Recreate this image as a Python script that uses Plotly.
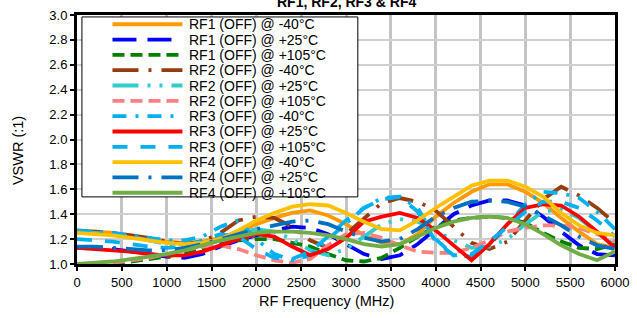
import plotly.graph_objects as go

# ---------------- data ----------------
freq_mhz = list(range(0, 6001, 200))

series_names = [
    "RF1 (OFF) @ -40°C", "RF1 (OFF) @ +25°C", "RF1 (OFF) @ +105°C",
    "RF2 (OFF) @ -40°C", "RF2 (OFF) @ +25°C", "RF2 (OFF) @ +105°C",
    "RF3 (OFF) @ -40°C", "RF3 (OFF) @ +25°C", "RF3 (OFF) @ +105°C",
    "RF4 (OFF) @ -40°C", "RF4 (OFF) @ +25°C", "RF4 (OFF) @ +105°C",
]

rf1_m40 = [1.27, 1.26, 1.25, 1.23, 1.20, 1.18, 1.17, 1.18, 1.21, 1.26, 1.32, 1.37, 1.41, 1.43, 1.39, 1.32,
           1.23, 1.17, 1.16, 1.24, 1.38, 1.49, 1.58, 1.64, 1.64, 1.58, 1.49, 1.37, 1.26, 1.16, 1.13]
rf1_p25 = [1.13, 1.13, 1.12, 1.10, 1.08, 1.06, 1.05, 1.08, 1.14, 1.19, 1.23, 1.27, 1.30, 1.29, 1.24, 1.16,
           1.08, 1.04, 1.07, 1.16, 1.28, 1.40, 1.47, 1.51, 1.51, 1.47, 1.38, 1.26, 1.15, 1.08, 1.07]
rf1_p105 = [1.00, 1.00, 1.01, 1.02, 1.04, 1.06, 1.09, 1.12, 1.16, 1.19, 1.20, 1.20, 1.17, 1.14, 1.08, 1.03,
            1.02, 1.05, 1.13, 1.22, 1.30, 1.35, 1.37, 1.38, 1.37, 1.33, 1.25, 1.18, 1.13, 1.12, 1.16]
rf2_m40 = [1.26, 1.26, 1.25, 1.23, 1.21, 1.18, 1.16, 1.18, 1.25, 1.35, 1.38, 1.37, 1.30, 1.19, 1.13, 1.24,
           1.37, 1.49, 1.53, 1.50, 1.43, 1.30, 1.17, 1.12, 1.18, 1.35, 1.52, 1.62, 1.55, 1.45, 1.33]
rf2_p25 = [1.26, 1.25, 1.24, 1.22, 1.19, 1.16, 1.14, 1.15, 1.19, 1.25, 1.28, 1.26, 1.20, 1.11, 1.07, 1.12,
           1.22, 1.32, 1.36, 1.34, 1.27, 1.19, 1.13, 1.14, 1.20, 1.32, 1.42, 1.44, 1.37, 1.25, 1.15]
rf2_p105 = [1.00, 1.00, 1.01, 1.03, 1.05, 1.08, 1.11, 1.14, 1.15, 1.12, 1.07, 1.03, 1.01, 1.04, 1.15, 1.24,
            1.25, 1.21, 1.15, 1.10, 1.09, 1.09, 1.13, 1.19, 1.26, 1.29, 1.31, 1.31, 1.29, 1.24, 1.18]
rf3_m40 = [1.27, 1.26, 1.25, 1.23, 1.21, 1.19, 1.19, 1.22, 1.30, 1.35, 1.20, 1.08, 1.03, 1.07, 1.20, 1.33,
           1.45, 1.53, 1.54, 1.45, 1.20, 1.07, 1.06, 1.15, 1.32, 1.48, 1.58, 1.57, 1.53, 1.42, 1.28]
rf3_p25 = [1.13, 1.12, 1.11, 1.10, 1.08, 1.07, 1.07, 1.10, 1.15, 1.20, 1.24, 1.22, 1.14, 1.07, 1.12, 1.21,
           1.34, 1.38, 1.41, 1.37, 1.27, 1.15, 1.03, 1.16, 1.32, 1.45, 1.48, 1.47, 1.38, 1.26, 1.13]
rf3_p105 = [1.20, 1.19, 1.18, 1.16, 1.14, 1.13, 1.14, 1.19, 1.24, 1.22, 1.12, 1.05, 1.04, 1.10, 1.22, 1.35,
            1.45, 1.52, 1.54, 1.42, 1.18, 1.07, 1.08, 1.18, 1.30, 1.42, 1.50, 1.50, 1.45, 1.35, 1.22]
rf4_m40 = [1.25, 1.24, 1.23, 1.21, 1.19, 1.17, 1.16, 1.17, 1.20, 1.27, 1.35, 1.41, 1.46, 1.48, 1.47, 1.41,
           1.34, 1.28, 1.27, 1.35, 1.45, 1.54, 1.63, 1.67, 1.67, 1.62, 1.54, 1.41, 1.31, 1.25, 1.23]
rf4_p25 = [1.14, 1.14, 1.13, 1.12, 1.11, 1.11, 1.13, 1.16, 1.20, 1.24, 1.28, 1.31, 1.34, 1.35, 1.32, 1.26,
           1.21, 1.18, 1.20, 1.28, 1.38, 1.45, 1.50, 1.51, 1.50, 1.46, 1.39, 1.31, 1.22, 1.15, 1.12]
rf4_p105 = [1.00, 1.01, 1.02, 1.04, 1.06, 1.08, 1.11, 1.15, 1.19, 1.22, 1.25, 1.26, 1.26, 1.25, 1.23, 1.20,
            1.16, 1.14, 1.16, 1.22, 1.29, 1.34, 1.37, 1.38, 1.37, 1.32, 1.24, 1.15, 1.08, 1.03, 1.10]

series_values = [rf1_m40, rf1_p25, rf1_p105, rf2_m40, rf2_p25, rf2_p105,
                 rf3_m40, rf3_p25, rf3_p105, rf4_m40, rf4_p25, rf4_p105]

x_ticks = list(range(0, 6001, 500))
y_ticks = [1.0, 1.2, 1.4, 1.6, 1.8, 2.0, 2.2, 2.4, 2.6, 2.8, 3.0]

# ---------------- styles ----------------
colors = ["#FF9A00", "#0000FF", "#008000", "#963C0F", "#33CCCC", "#FF8080",
          "#00B0F0", "#FF0000", "#00B0F0", "#FFC000", "#0070C0", "#70AD47"]
dashes = ["solid", "24px,11px", "12px,6px", "26px,10px,3px,10px", "26px,9px,3px,9px,3px,9px", "12px,6px",
          "14px,9px,3px,9px", "solid", "15px,13px", "solid", "26px,10px,3px,10px", "solid"]
LW = 3.8
FONT = "Liberation Sans, Arial, sans-serif"

fig = go.Figure()
for name, vals, c, d in zip(series_names, series_values, colors, dashes):
    fig.add_trace(go.Scatter(x=freq_mhz, y=vals, mode="lines", name=name,
                             line=dict(color=c, width=LW, dash=d), showlegend=False))

# ---------------- manual legend (layout decoration) ----------------
L, R, T, B = 77, 623, 8, 264
W, H = R - L, B - T
def px_x(p): return (p - L) / W
def px_y(p): return (B - p) / H

shapes = [dict(type="rect", xref="paper", yref="paper",
               x0=px_x(82), x1=px_x(362), y0=px_y(195), y1=px_y(10),
               fillcolor="white", line=dict(color="black", width=1), layer="above")]
annotations = []
for i, (name, c, d) in enumerate(zip(series_names, colors, dashes)):
    yy = px_y(17.5 + 15.75 * i)
    shapes.append(dict(type="line", xref="paper", yref="paper",
                       x0=px_x(113), x1=px_x(184), y0=yy, y1=yy,
                       line=dict(color=c, width=LW, dash=d), layer="above"))
    annotations.append(dict(text=name, xref="paper", yref="paper", x=px_x(189), y=yy,
                            xanchor="left", yanchor="middle", showarrow=False,
                            font=dict(family=FONT, size=14, color="black")))

annotations.append(dict(text="<b>RF1, RF2, RF3 &amp; RF4</b>", xref="paper", yref="paper",
                        x=px_x(350), y=px_y(-5), xanchor="center", yanchor="middle",
                        showarrow=False, font=dict(family=FONT, size=14, color="black")))
annotations.append(dict(text="RF Frequency (MHz)", xref="paper", yref="paper",
                        x=px_x(330), y=px_y(302), xanchor="center", yanchor="middle",
                        showarrow=False, font=dict(family=FONT, size=14.5, color="black")))
annotations.append(dict(text="VSWR (:1)", xref="paper", yref="paper",
                        x=px_x(17), y=px_y(147), xanchor="center", yanchor="middle", textangle=-90,
                        showarrow=False, font=dict(family=FONT, size=14.5, color="black")))

fig.update_layout(
    width=637, height=318,
    margin=dict(l=L, r=637 - R, t=T, b=318 - B, pad=0),
    paper_bgcolor="white", plot_bgcolor="white",
    shapes=shapes, annotations=annotations,
    font=dict(family=FONT, size=13, color="black"),
    showlegend=False,
)
fig.update_xaxes(range=[0, 6000], tickvals=x_ticks, ticktext=[str(v) for v in x_ticks],
                 ticklabeloverflow="allow",
                 showgrid=True, gridcolor="#C4C4C4", gridwidth=2.5,
                 showline=True, linecolor="black", linewidth=3, mirror=True,
                 ticks="outside", ticklen=4, tickwidth=1.5, tickcolor="black",
                 tickfont=dict(family=FONT, size=13, color="black"), zeroline=False)
fig.update_yaxes(range=[1.0, 3.0], tickvals=y_ticks, ticktext=[f"{v:.1f}" for v in y_ticks],
                 ticklabeloverflow="allow",
                 showgrid=True, gridcolor="#D0D0D0", gridwidth=1.5,
                 showline=True, linecolor="black", linewidth=3, mirror=True,
                 ticks="outside", ticklen=4, tickwidth=1.5, tickcolor="black",
                 tickfont=dict(family=FONT, size=13, color="black"), zeroline=False)

fig.write_html("out.html", config={"displayModeBar": False},
               post_script="document.body.style.margin='0';document.body.style.overflow='hidden';")
